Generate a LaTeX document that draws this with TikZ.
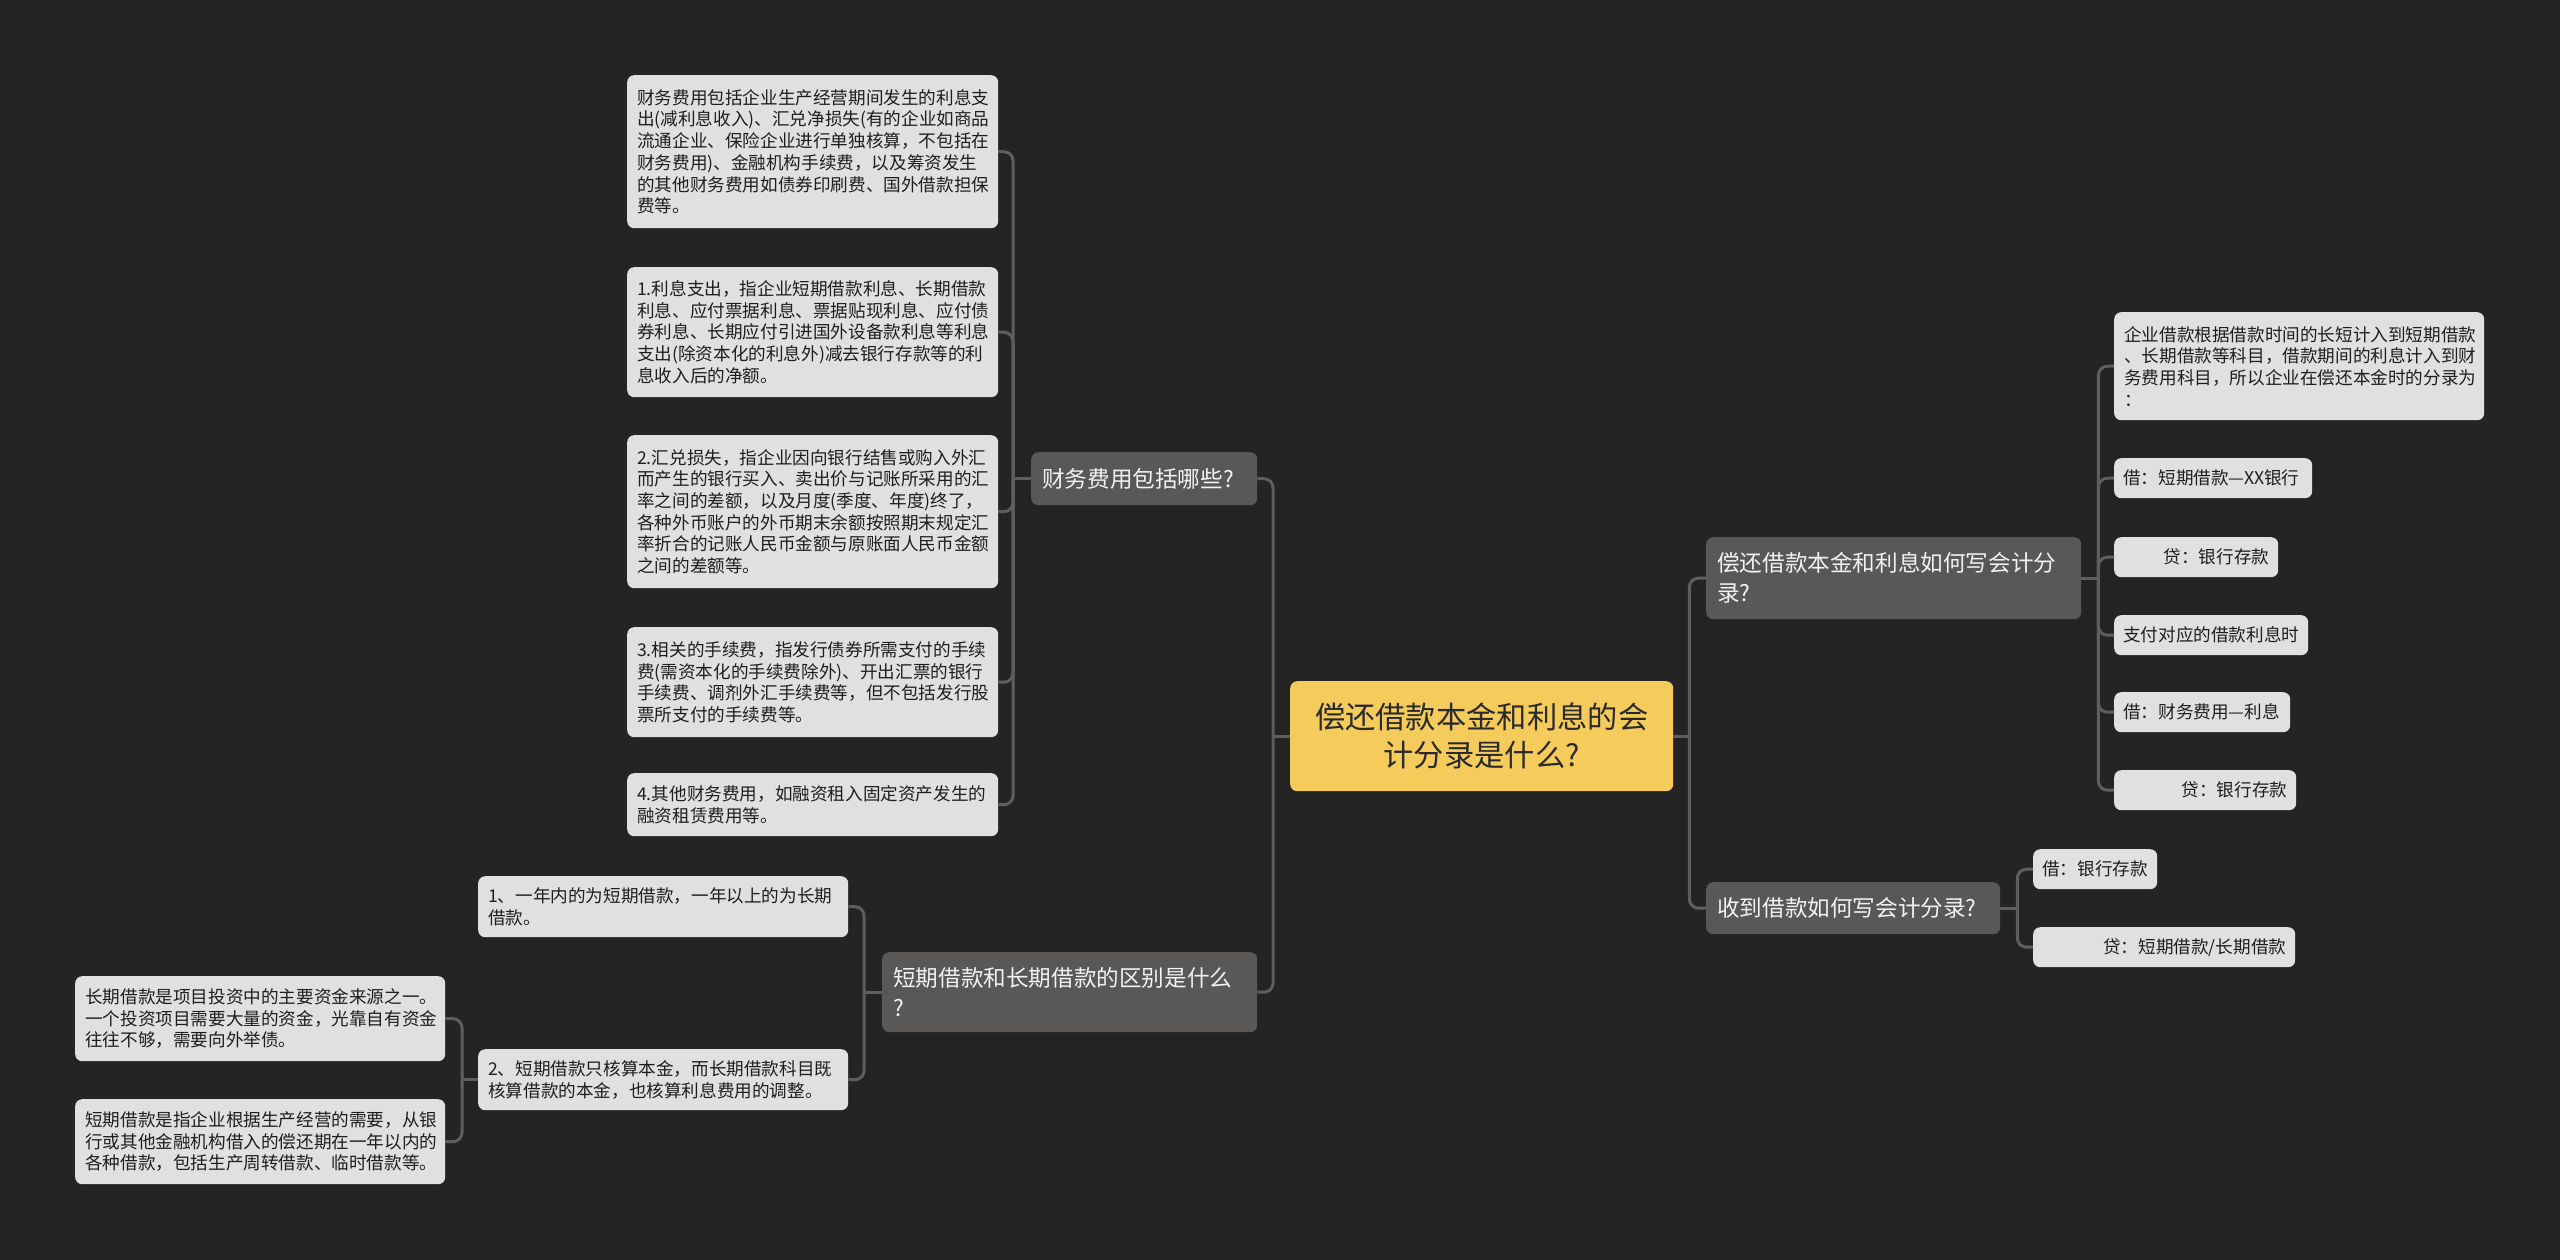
\documentclass[tikz,border=0pt]{standalone}
\usepackage{fontspec}
\setmainfont{Noto Sans CJK SC}
\definecolor{bg}{HTML}{242424}
\definecolor{rootfill}{HTML}{F5CB5C}
\definecolor{roottext}{HTML}{2A2A2A}
\definecolor{brfill}{HTML}{5A5856}
\definecolor{brtext}{HTML}{F2F2F2}
\definecolor{leaffill}{HTML}{E0E0E0}
\definecolor{leaftext}{HTML}{1E1E1E}
\definecolor{linecol}{HTML}{5E5E5E}
\begin{document}
\begin{tikzpicture}[x=1pt,y=-1pt,
  box/.style={anchor=north west, rounded corners=7pt, inner xsep=10pt, inner ysep=0pt, align=left},
  leaf/.style={box, fill=leaffill, text=leaftext, font=\fontsize{17.6pt}{21.7pt}\selectfont},
  leafr/.style={leaf, align=right, inner xsep=9pt},
  branch/.style={box, fill=brfill, text=brtext, inner xsep=11pt, font=\fontsize{22.6pt}{30pt}\selectfont},
  rootbox/.style={box, fill=rootfill, text=roottext, align=center, font=\fontsize{30.3pt}{38pt}\selectfont},
  conn/.style={draw=linecol, line width=3pt, rounded corners=9pt}]
\fill[bg] (0,0) rectangle (2560,1260);
\useasboundingbox (0,0) rectangle (2560,1260);

% root
\node[rootbox, text width=363pt, minimum height=110pt] (root) at (1290,681) {偿还借款本金和利息的会\\计分录是什么?};

% branches
\node[branch, text width=204pt, minimum height=53pt] (b1) at (1031,452) {财务费用包括哪些?};
\node[branch, text width=353pt, minimum height=80pt] (b2) at (882,952) {短期借款和长期借款的区别是什么\\?};
\node[branch, text width=353pt, minimum height=82pt] (b3) at (1706,537) {偿还借款本金和利息如何写会计分\\录?};
\node[branch, text width=272pt, minimum height=52pt] (b4) at (1706,882) {收到借款如何写会计分录?};

% leaves of b1
\node[leaf, text width=351pt, minimum height=153pt] (l1) at (627,75) {财务费用包括企业生产经营期间发生的利息支\\出(减利息收入)、汇兑净损失(有的企业如商品\\流通企业、保险企业进行单独核算，不包括在\\财务费用)、金融机构手续费，以及筹资发生\\的其他财务费用如债券印刷费、国外借款担保\\费等。};
\node[leaf, text width=351pt, minimum height=130pt] (l2) at (627,267) {1.利息支出，指企业短期借款利息、长期借款\\利息、应付票据利息、票据贴现利息、应付债\\券利息、长期应付引进国外设备款利息等利息\\支出(除资本化的利息外)减去银行存款等的利\\息收入后的净额。};
\node[leaf, text width=351pt, minimum height=153pt] (l3) at (627,435) {2.汇兑损失，指企业因向银行结售或购入外汇\\而产生的银行买入、卖出价与记账所采用的汇\\率之间的差额，以及月度(季度、年度)终了，\\各种外币账户的外币期末余额按照期末规定汇\\率折合的记账人民币金额与原账面人民币金额\\之间的差额等。};
\node[leaf, text width=351pt, minimum height=110pt] (l4) at (627,627) {3.相关的手续费，指发行债券所需支付的手续\\费(需资本化的手续费除外)、开出汇票的银行\\手续费、调剂外汇手续费等，但不包括发行股\\票所支付的手续费等。};
\node[leaf, text width=351pt, minimum height=63pt] (l5) at (627,773) {4.其他财务费用，如融资租入固定资产发生的\\融资租赁费用等。};

% leaves of b2
\node[leaf, text width=350pt, minimum height=61pt] (s1) at (478,876) {1、一年内的为短期借款，一年以上的为长期\\借款。};
\node[leaf, text width=350pt, minimum height=61pt] (s2) at (478,1049) {2、短期借款只核算本金，而长期借款科目既\\核算借款的本金，也核算利息费用的调整。};
\node[leaf, text width=350pt, minimum height=85pt] (s2a) at (75,976) {长期借款是项目投资中的主要资金来源之一。\\一个投资项目需要大量的资金，光靠自有资金\\往往不够，需要向外举债。};
\node[leaf, text width=350pt, minimum height=85pt] (s2b) at (75,1099) {短期借款是指企业根据生产经营的需要，从银\\行或其他金融机构借入的偿还期在一年以内的\\各种借款，包括生产周转借款、临时借款等。};

% leaves of b3
\node[leaf, text width=350pt, minimum height=108pt] (r1) at (2114,312) {企业借款根据借款时间的长短计入到短期借款\\、长期借款等科目，借款期间的利息计入到财\\务费用科目，所以企业在偿还本金时的分录为\\：};
\node[leaf, inner xsep=9pt, text width=180pt, minimum height=40pt] (r2) at (2114,458) {借：短期借款—XX银行};
\node[leafr, text width=146pt, minimum height=40pt] (r3) at (2114,537) {贷：银行存款};
\node[leaf, inner xsep=9pt, text width=176pt, minimum height=40pt] (r4) at (2114,615) {支付对应的借款利息时};
\node[leaf, inner xsep=9pt, text width=158pt, minimum height=40pt] (r5) at (2114,692) {借：财务费用—利息};
\node[leafr, text width=164pt, minimum height=40pt] (r6) at (2114,770) {贷：银行存款};

% leaves of b4
\node[leaf, inner xsep=9pt, text width=106pt, minimum height=40pt] (t1) at (2033,849) {借：银行存款};
\node[leafr, text width=244pt, minimum height=40pt] (t2) at (2033,927) {贷：短期借款/长期借款};

% connectors: root
\draw[conn] (root.west) -- ++(-17,0) coordinate (rlj);
\draw[conn] (rlj) |- (b1.east);
\draw[conn] (rlj) |- (b2.east);
\draw[conn] (root.east) -- ++(16,0) coordinate (rrj);
\draw[conn] (rrj) |- (b3.west);
\draw[conn] (rrj) |- (b4.west);

% b1
\draw[conn] (b1.west) -- ++(-18,0) coordinate (b1j);
\foreach \n in {l1,l2,l3,l4,l5} \draw[conn] (b1j) |- (\n.east);
% b2
\draw[conn] (b2.west) -- ++(-18,0) coordinate (b2j);
\foreach \n in {s1,s2} \draw[conn] (b2j) |- (\n.east);
\draw[conn] (s2.west) -- ++(-16,0) coordinate (s2j);
\foreach \n in {s2a,s2b} \draw[conn] (s2j) |- (\n.east);
% b3
\draw[conn] (b3.east) -- ++(17,0) coordinate (b3j);
\foreach \n in {r1,r2,r3,r4,r5,r6} \draw[conn] (b3j) |- (\n.west);
% b4
\draw[conn] (b4.east) -- ++(17,0) coordinate (b4j);
\foreach \n in {t1,t2} \draw[conn] (b4j) |- (\n.west);
\end{tikzpicture}
\end{document}
